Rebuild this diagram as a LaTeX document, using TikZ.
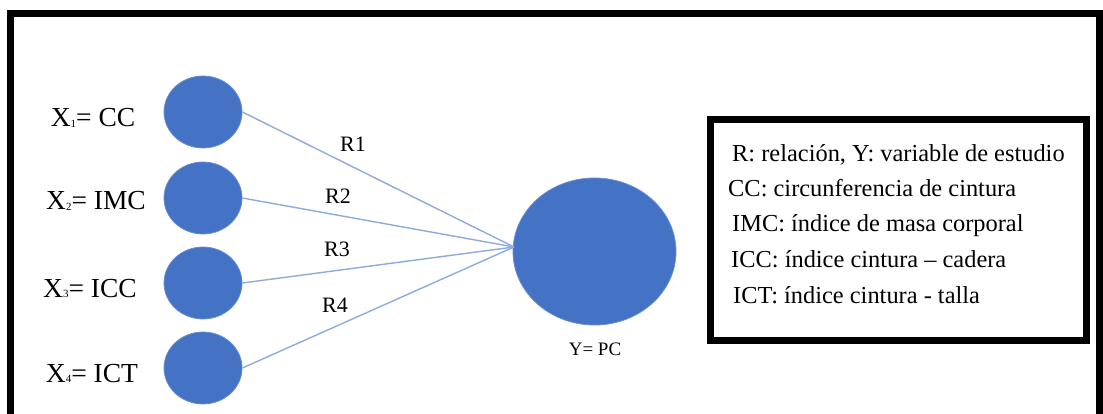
\documentclass[tikz,border=0pt]{standalone}
\usepackage{fontspec}
\setmainfont{Liberation Serif}
\usetikzlibrary{shapes.geometric}
\definecolor{nodeblue}{HTML}{4472C4}
\definecolor{linkblue}{HTML}{8FAADC}
\newcommand{\tinysub}[1]{\raisebox{-0.5pt}{\fontsize{11}{11}\selectfont #1}}
\tikzset{
  small/.style={ellipse, fill=nodeblue, draw=nodeblue!80!white, line width=0.8pt, minimum width=78pt, minimum height=72pt, inner sep=0pt},
  big/.style={ellipse, fill=nodeblue, draw=nodeblue!80!white, line width=0.8pt, minimum width=163pt, minimum height=147pt, inner sep=0pt},
  xlab/.style={anchor=base, inner sep=0pt, font=\fontsize{27.5}{30}\selectfont},
  rlab/.style={anchor=base, inner sep=0pt, font=\fontsize{22}{26}\selectfont},
  leg/.style={anchor=base west, inner sep=0pt, font=\fontsize{24.4}{28}\selectfont},
  link/.style={draw=linkblue, line width=1.4pt},
  frame/.style={draw=black, line width=7pt}
}
\begin{document}
\begin{tikzpicture}[x=1pt, y=-1pt]
\useasboundingbox (0,0) rectangle (1103,414);
\fill[white] (0,0) rectangle (1103,414);
\begin{scope}
\clip (0,0) rectangle (1103,414);
\draw[frame] (10.5,430) -- (10.5,13.5) -- (1099.5,13.5) -- (1099.5,430);
\end{scope}
% small nodes
\node[small] (x1) at (203,112) {};
\node[small] (x2) at (203,198) {};
\node[small] (x3) at (203,283) {};
\node[small] (x4) at (203,368) {};
% big node
\node[big] (y) at (594.5,251.5) {};
\coordinate (hub) at (514,247);
% labels
\node[xlab] (l1) at (93,127) {X\tinysub{1}= CC};
\node[xlab] (l2) at (96,210) {X\tinysub{2}= IMC};
\node[xlab] (l3) at (90,297) {X\tinysub{3}= ICC};
\node[xlab] (l4) at (92,382) {X\tinysub{4}= ICT};
\node[rlab] (ly) at (595,355) {\fontsize{19}{22}\selectfont Y= PC};
% links
\draw[link] (x1.east) -- (hub);
\draw[link] (x2.east) -- (hub);
\draw[link] (x3.east) -- (hub);
\draw[link] (x4.east) -- (hub);
\node[rlab] (r1) at (353,152) {R1};
\node[rlab] (r2) at (338,204) {R2};
\node[rlab] (r3) at (337,257) {R3};
\node[rlab] (r4) at (335,312) {R4};
% legend
\node[draw=black, line width=7pt, minimum width=376pt, minimum height=220pt, inner sep=0pt, anchor=north west] (legend) at (706.5,116.5) {};
\node[leg] (g1) at (732,162) {R: relación, Y: variable de estudio};
\node[leg] (g2) at (728,197) {CC: circunferencia de cintura};
\node[leg] (g3) at (732,232) {IMC: índice de masa corporal};
\node[leg] (g4) at (731,267) {ICC: índice cintura – cadera};
\node[leg] (g5) at (733,303) {ICT: índice cintura - talla};
\end{tikzpicture}
\end{document}
